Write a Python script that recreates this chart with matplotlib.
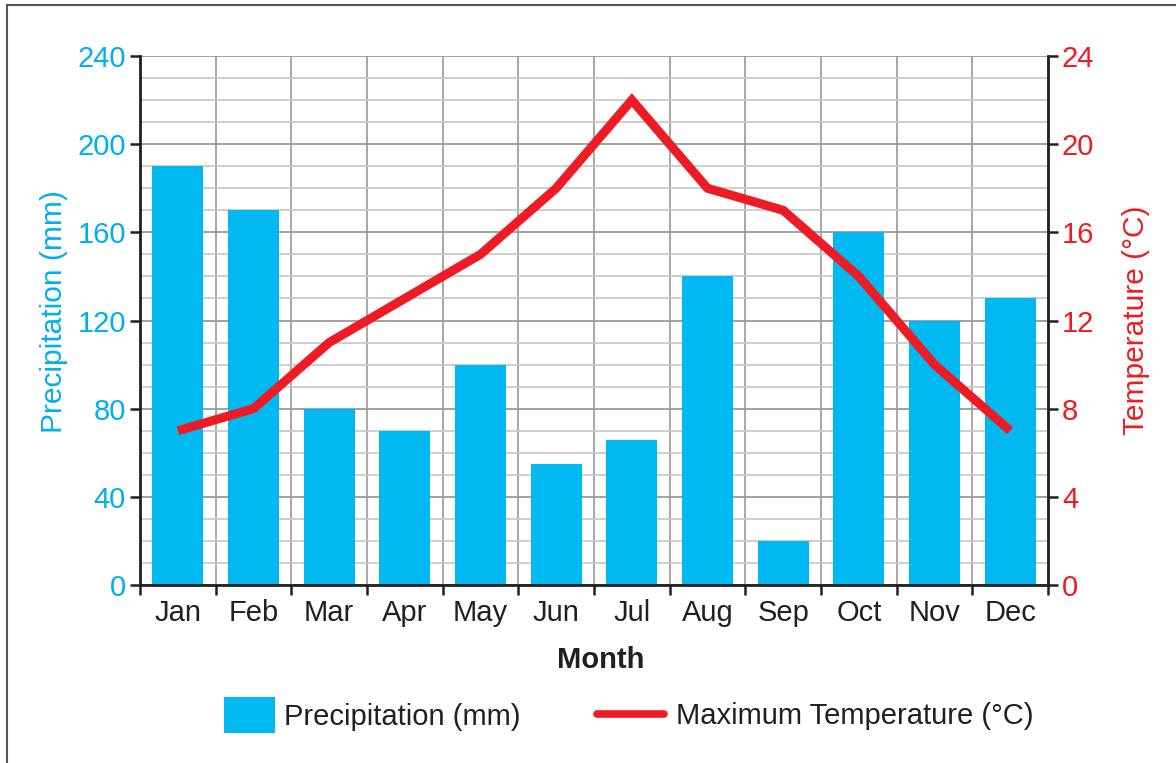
import matplotlib
matplotlib.use("Agg")
import matplotlib.pyplot as plt
from matplotlib.ticker import MultipleLocator, FixedLocator, NullFormatter
from matplotlib.patches import Patch
from matplotlib.lines import Line2D
import numpy as np

months = ["Jan", "Feb", "Mar", "Apr", "May", "Jun", "Jul", "Aug", "Sep", "Oct", "Nov", "Dec"]
precipitation = [190, 170, 80, 70, 100, 55, 66, 140, 20, 160, 120, 130]
max_temperature = [7, 8, 11, 13, 15, 18, 22, 18, 17, 14, 10, 7]
precip_ticks = [0, 40, 80, 120, 160, 200, 240]
temp_ticks = [0, 4, 8, 12, 16, 20, 24]

BLUE = "#00B9F1"
BLUE_TXT = "#00AEEF"
RED = "#ED1C24"
DARK = "#231F20"
FS = 21

plt.rcParams['font.family'] = ['Liberation Sans', 'DejaVu Sans']

fig = plt.figure(figsize=(11.76, 7.63), dpi=100)
ax = fig.add_axes([140/1176, 1 - 585/763, (1048-140)/1176, (585-56)/763])

x = np.arange(len(months))
ax.bar(x, precipitation, width=0.67, color=BLUE, zorder=2)
ax.set_xlim(-0.5, len(months) - 0.5)
ax.set_ylim(0, 240)

# gridlines
ax.yaxis.set_major_locator(FixedLocator(precip_ticks))
ax.yaxis.set_minor_locator(MultipleLocator(10))
ax.grid(which='major', axis='y', color='#9a9a9a', linewidth=1.3, zorder=0)
ax.grid(which='minor', axis='y', color='#cacaca', linewidth=1.3, zorder=0)
ax.xaxis.set_major_locator(FixedLocator(np.arange(-0.5, len(months), 1.0)))
ax.xaxis.set_major_formatter(NullFormatter())
ax.xaxis.set_minor_locator(FixedLocator(x))
ax.set_xticks(x, months, minor=True)
ax.grid(which='major', axis='x', color='#a0a0a0', linewidth=1.3, zorder=0)
ax.set_axisbelow(True)

ax.tick_params(axis='x', which='major', direction='out', length=7, width=1.8, color=DARK)
ax.tick_params(axis='x', which='minor', length=0, pad=10, labelsize=FS, labelcolor=DARK)
ax.tick_params(axis='y', which='major', direction='out', length=7, width=1.8, color=DARK,
               labelsize=FS, labelcolor=BLUE_TXT, pad=3)
ax.tick_params(axis='y', which='minor', length=0)

for s in ['left', 'bottom']:
    ax.spines[s].set_color(DARK)
    ax.spines[s].set_linewidth(2)
ax.spines['top'].set_visible(False)
ax.spines['right'].set_visible(False)

ax.set_ylabel("Precipitation (mm)", fontsize=21.5, color=BLUE_TXT)
ax.yaxis.set_label_coords(-0.079, 0.516)
ax.set_xlabel("Month", fontsize=FS, fontweight='bold', color=DARK, labelpad=12)
ax.xaxis.set_label_coords(0.507, -0.115)

ax2 = ax.twinx()
ax2.plot(x, max_temperature, color=RED, linewidth=6.5, solid_joinstyle='miter',
         solid_capstyle='butt', zorder=3)
ax2.set_ylim(0, 24)
ax2.set_yticks(temp_ticks)
ax2.tick_params(axis='y', direction='out', length=7, width=1.8, color=DARK,
                labelsize=FS, labelcolor=RED, pad=3)
ax2.spines['right'].set_color(DARK)
ax2.spines['right'].set_linewidth(2)
for s in ['left', 'top', 'bottom']:
    ax2.spines[s].set_visible(False)
ax2.set_ylabel("Temperature (°C)", fontsize=21.5, color=RED, labelpad=20)

# legends
h1 = Patch(facecolor=BLUE, edgecolor='none', label="Precipitation (mm)")
h2 = Line2D([], [], color=RED, linewidth=5.5, solid_capstyle='round',
            label="Maximum Temperature (°C)")
leg1 = fig.legend(handles=[h1], loc='center left', bbox_to_anchor=(224/1176, 1 - 715/763),
                  frameon=False, fontsize=FS, handlelength=1.75, handleheight=1.47,
                  handletextpad=0.3, borderaxespad=0, borderpad=0, labelcolor=DARK)
leg2 = fig.legend(handles=[h2], loc='center left', bbox_to_anchor=(597/1176, 1 - 716/763),
                  frameon=False, fontsize=FS, handlelength=2.3,
                  handletextpad=0.4, borderaxespad=0, borderpad=0, labelcolor=DARK)

# figure border (top and left visible)
fig.add_artist(Line2D([7/1176, 1.0], [1 - 5/763, 1 - 5/763], transform=fig.transFigure,
                      color='#555555', linewidth=1.5))
fig.add_artist(Line2D([7/1176, 7/1176], [0.0, 1 - 5/763], transform=fig.transFigure,
                      color='#555555', linewidth=1.5))

fig.savefig("out.png", dpi=100, facecolor='white')
